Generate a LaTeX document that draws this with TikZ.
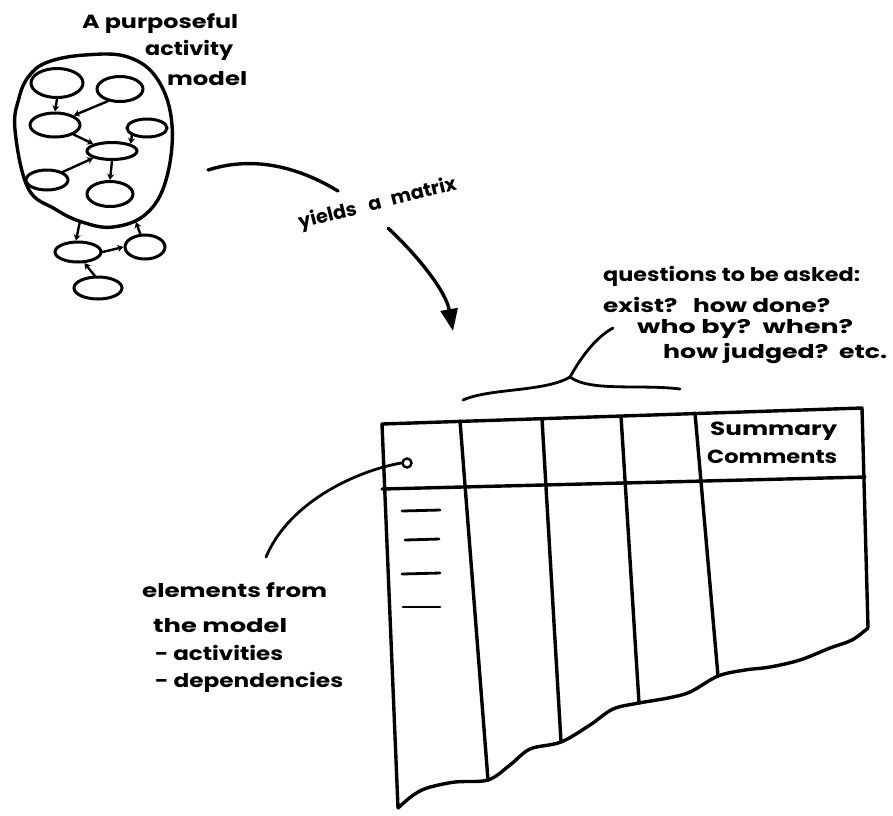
\documentclass[tikz,border=0pt]{standalone}
\usepackage{fontspec}
\setmainfont{Poppins}
\usetikzlibrary{shapes.geometric,arrows.meta}
\newcommand\hw[2]{\resizebox{#1pt}{\height}{#2}}
\tikzset{
  pen/.style={line width=3.4pt, line cap=round, line join=round},
  thinpen/.style={line width=2.8pt, line cap=round, line join=round},
  act/.style={ellipse, draw, line width=3pt, inner sep=0pt},
  dep/.style={line width=2.4pt, line cap=round, -{Stealth[length=6pt,width=7pt]}},
  txt/.style={inner sep=0pt, font=\fontsize{19}{22}\selectfont\bfseries, anchor=base west},
}
\begin{document}
\begin{tikzpicture}[x=1pt,y=-1pt]
\useasboundingbox (0,0) rectangle (893,815);
% ---- model blob
\draw[pen] plot[smooth cycle, tension=0.65] coordinates {(15,130) (19,98) (29,76) (48,62) (85,55) (128,57) (158,80) (172,125) (166,180) (146,214) (113,227) (82,222) (55,209) (28,188)};
\coordinate (bl1) at (80,221);
\coordinate (bl2) at (136,222);
% activities
\node[act, minimum width=52pt, minimum height=29pt] (e1) at (57,83) {};
\node[act, minimum width=46pt, minimum height=25pt] (e2) at (120,89) {};
\node[act, minimum width=50pt, minimum height=24pt] (e3) at (55,125) {};
\node[act, minimum width=40pt, minimum height=18pt] (e4) at (147,128) {};
\node[act, minimum width=50pt, minimum height=17pt] (e5) at (112,151) {};
\node[act, minimum width=42pt, minimum height=20pt] (e6) at (47,180) {};
\node[act, minimum width=46pt, minimum height=25pt] (e7) at (110,194) {};
\node[act, minimum width=46pt, minimum height=20pt] (e8) at (78,252) {};
\node[act, minimum width=40pt, minimum height=24pt] (e9) at (145,247) {};
\node[act, minimum width=48pt, minimum height=22pt] (e10) at (98,288) {};
\draw[dep] (e1.south) -- (e3.north);
\draw[dep] (e2.225) -- (e3.north east);
\draw[dep] (e3.south east) -- (e5.north west);
\draw[dep] (e4.south west) -- (e5.north east);
\draw[dep] (e6.north east) -- (e5.south west);
\draw[dep] (e5.south) -- (e7.north);
\draw[dep] (bl1) -- (e8.100);
\draw[dep] (e8.east) -- (e9.west);
\draw[dep] (e10.105) -- (e8.-60);
\draw[dep] (e9.110) -- (bl2);
% title
\node[txt] (t1) at (82,28) {\hw{156}{A purposeful}};
\node[txt] (t2) at (145,55) {\hw{88}{activity}};
\node[txt] (t3) at (167,85) {\hw{80}{model}};
% yields a matrix
\coordinate (c1) at (208,170);
\coordinate (c2) at (338,191);
\draw[pen] (c1) .. controls (255,155) and (300,168) .. (c2);
\node[txt, rotate=14] (ym) at (300,229) {\hw{162}{yields\hspace{12pt}a\hspace{10pt}matrix}};
\coordinate (a1) at (388,228);
\coordinate (a2) at (453,331);
\draw[pen, -{Triangle[length=22pt,width=17pt]}] (a1) .. controls (420,258) and (446,292) .. (a2);
% questions
\node[txt] (q1) at (603,281) {\hw{257}{questions to be asked:}};
\node[txt] (q2) at (603,312) {\hw{227}{exist?~~~how done?}};
\node[txt] (q3) at (637,333) {\hw{216}{who by?~~when?}};
\node[txt] (q4) at (663,358) {\hw{224}{how judged?~~etc.}};
% brace
\coordinate (bL) at (463,400);
\coordinate (bM) at (570,377);
\coordinate (bR) at (680,389);
\coordinate (bT) at (613,328);
\draw[thinpen] (bL) .. controls (490,388) and (545,392) .. (bM) .. controls (590,392) and (640,384) .. (bR);
\draw[thinpen] (bM) .. controls (585,350) and (600,335) .. (bT);
% matrix
\coordinate (m1) at (382,424);
\coordinate (m2) at (862,408);
\coordinate (m3) at (868,628);
\coordinate (m4) at (398,808);
\draw[pen] (m3) -- (m2) -- (m1) -- (m4)
  plot[smooth, tension=0.55] coordinates {(398,808) (412,796) (427,788) (455,782) (488,780) (510,765) (530,749) (561,742) (590,725) (613,709) (639,703) (668,698) (690,692) (718,676) (745,670) (770,667) (800,660) (830,648) (852,640) (868,628)};
\draw[pen] (382,489) -- (865,477);
\draw[pen] (460,421) -- (488,780);
\draw[pen] (542,419) -- (561,742);
\draw[pen] (621,416) -- (639,703);
\draw[pen] (695,413) -- (718,676);
\draw[thinpen] (402,511) -- (440,510);
\draw[thinpen] (405,540) -- (439,539);
\draw[thinpen] (402,574) -- (440,573);
\draw[thinpen] (403,607) -- (440,607);
\node[txt] (s1) at (710,435) {\hw{127}{Summary}};
\node[txt] (s2) at (707,463) {\hw{130}{Comments}};
% elements connector
\node[circle, draw, line width=2.4pt, minimum size=9pt, inner sep=0pt] (dot) at (407,463) {};
\node[txt] (l1) at (142,597) {\hw{185}{elements from}};
\node[txt] (l2) at (153,632) {\hw{134}{the model}};
\node[txt] (l3) at (155,660) {\hw{128}{- activities}};
\node[txt] (l4) at (155,687) {\hw{188}{- dependencies}};
\coordinate (lt) at (266,557);
\draw[thinpen] (dot.west) .. controls (360,470) and (290,500) .. (lt);
\end{tikzpicture}
\end{document}
